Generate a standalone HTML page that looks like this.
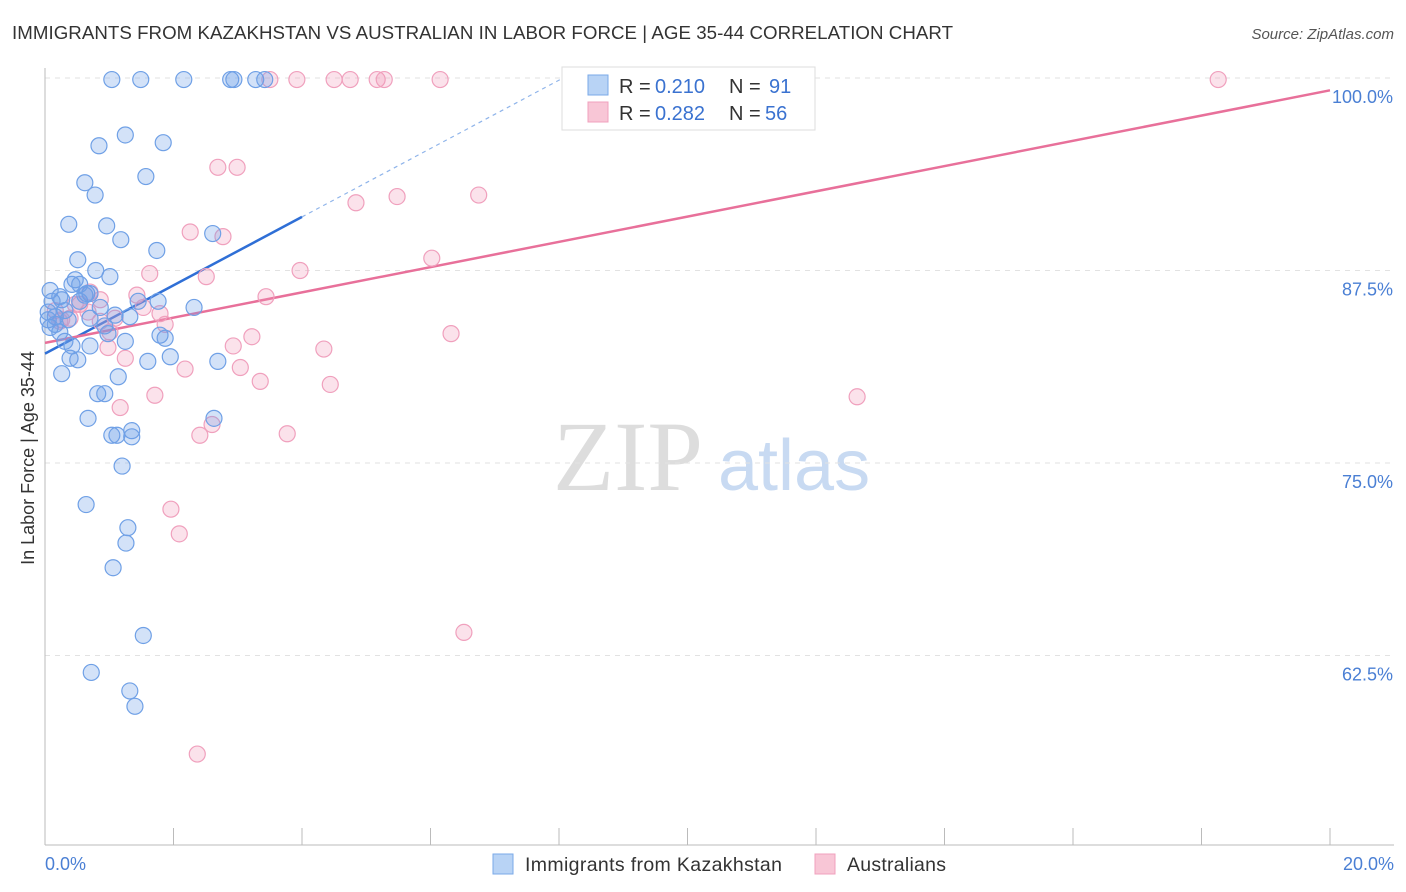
<!DOCTYPE html>
<html><head><meta charset="utf-8"><style>
body{margin:0;background:#fff;font-family:"Liberation Sans",sans-serif}
svg{display:block}
</style></head><body>
<svg id="c" width="1406" height="892" xmlns="http://www.w3.org/2000/svg">
<text x="12" y="39" font-size="18.7" fill="#333" textLength="941">IMMIGRANTS FROM KAZAKHSTAN VS AUSTRALIAN IN LABOR FORCE | AGE 35-44 CORRELATION CHART</text>
<text x="1394" y="39" font-size="15" fill="#555" font-style="italic" text-anchor="end">Source: ZipAtlas.com</text>
<text transform="translate(34,458) rotate(-90)" font-size="18" fill="#333" text-anchor="middle">In Labor Force | Age 35-44</text>
<g><text x="553" y="490" font-family="Liberation Serif,serif" font-size="100" fill="#ddd">ZIP</text><text x="718" y="490" font-size="72" fill="#c8daf2">atlas</text></g>
<g id="grid"></g>
<g id="ticks"></g>
<g id="trend"></g>
<g id="pts"></g>
<g>
<rect x="562" y="67" width="253" height="63" fill="#fff" stroke="#ddd"/>
<rect x="588" y="75" width="20" height="20" fill="#b8d3f5" stroke="#7aa9e8"/>
<rect x="588" y="102" width="20" height="20" fill="#f8c6d6" stroke="#f0a0bd"/>
<text x="619" y="93" font-size="20" fill="#333">R =</text><text x="655" y="93" font-size="20" fill="#3a72d0">0.210</text>
<text x="729" y="93" font-size="20" fill="#333">N =</text><text x="769" y="93" font-size="20" fill="#3a72d0">91</text>
<text x="619" y="120" font-size="20" fill="#333">R =</text><text x="655" y="120" font-size="20" fill="#3a72d0">0.282</text>
<text x="729" y="120" font-size="20" fill="#333">N =</text><text x="765" y="120" font-size="20" fill="#3a72d0">56</text>
</g>
<text x="45" y="870" font-size="18" fill="#4a7fd4">0.0%</text>
<text x="1394" y="870" font-size="18" fill="#4a7fd4" text-anchor="end">20.0%</text>
<g>
<rect x="493" y="854" width="20" height="20" fill="#b8d3f5" stroke="#7aa9e8"/>
<text x="525" y="871" font-size="19.5" fill="#333" textLength="257">Immigrants from Kazakhstan</text>
<rect x="815" y="854" width="20" height="20" fill="#f8c6d6" stroke="#f0a0bd"/>
<text x="847" y="871" font-size="19.5" fill="#333" textLength="99">Australians</text>
</g>
</svg>
<script>
const yTicks=[100,87.5,75,62.5];
const yTickLabels=["100.0%","87.5%","75.0%","62.5%"];
const xTicks=[0,2,4,6,8,10,12,14,16,18,20];
const blueX=[1.04,1.49,2.16,2.89,2.94,3.28,3.42,1.25,0.84,1.84,1.57,0.62,0.78,0.37,0.96,1.18,1.74,2.61,0.51,0.79,1.01,0.47,0.42,0.65,0.08,0.23,0.70,0.11,0.26,0.54,0.86,1.45,1.76,2.32,0.05,0.16,0.36,0.70,1.09,1.32,0.93,0.08,0.23,0.98,1.79,1.87,0.31,0.42,0.70,1.25,0.39,0.51,1.60,1.95,2.69,0.26,1.14,0.82,0.93,0.67,2.63,1.04,1.12,1.35,1.35,1.20,0.64,1.29,1.26,1.06,1.53,0.72,1.32,1.40,0.05,0.16,0.31,0.54,0.62];
const blueY=[99.9,99.9,99.9,99.9,99.9,99.9,99.9,96.3,95.6,95.8,93.6,93.2,92.4,90.5,90.4,89.5,88.8,89.9,88.2,87.5,87.1,86.9,86.6,86.0,86.2,85.8,86.0,85.5,85.6,85.5,85.1,85.5,85.5,85.1,84.8,84.5,84.3,84.4,84.6,84.5,83.9,83.8,83.5,83.4,83.3,83.1,82.9,82.6,82.6,82.9,81.8,81.7,81.6,81.9,81.6,80.8,80.6,79.5,79.5,77.9,77.9,76.8,76.8,77.1,76.7,74.8,72.3,70.8,69.8,68.2,63.8,61.4,60.2,59.2,84.3,84.0,84.9,86.6,85.9];
const pinkX=[3.50,3.92,4.50,4.75,5.17,5.28,6.15,18.26,2.69,2.99,4.84,5.48,6.75,2.26,2.77,6.02,1.63,3.97,2.51,0.70,1.43,3.44,0.86,0.54,1.53,1.79,0.16,0.39,0.26,1.87,1.09,1.01,3.22,2.93,4.34,6.32,0.98,1.25,2.18,3.04,3.35,4.44,1.71,12.64,1.17,2.60,2.41,3.77,1.96,2.09,6.52,2.37,0.86,0.23,0.67,0.47];
const pinkY=[99.9,99.9,99.9,99.9,99.9,99.9,99.9,99.9,94.2,94.2,91.9,92.3,92.4,90.0,89.7,88.3,87.3,87.5,87.1,86.1,85.9,85.8,85.6,85.3,85.1,84.7,84.9,84.4,84.3,84.0,84.4,83.5,83.2,82.6,82.4,83.4,82.5,81.8,81.1,81.2,80.3,80.1,79.4,79.3,78.6,77.5,76.8,76.9,72.0,70.4,64.0,56.1,84.2,84.2,84.8,85.3];
const blueTrend=[82.1,2.22]; // intercept, slope
const pinkTrend=[82.8,0.82];
const NS="http://www.w3.org/2000/svg";
const X=v=>45+v*64.25, Y=v=>78+(100-v)*15.4;
function mk(t,a,p){const e=document.createElementNS(NS,t);for(const k in a)e.setAttribute(k,a[k]);p.appendChild(e);return e;}
const g=document.getElementById('grid');
yTicks.forEach((t,i)=>{
 const l=mk('line',{x1:45,x2:1394,y1:Y(t),y2:Y(t),stroke:'#e2e2e2','stroke-dasharray':'5,5'},g);
 
 
 const tx=mk('text',{x:1393,y:Y(t)+25,'font-size':18,fill:'#4a7fd4','text-anchor':'end'},g);
 tx.textContent=yTickLabels[i];
 
 
});
const ax=mk('line',{x1:45,x2:45,y1:68,y2:845,stroke:'#bbb'},g);


const bx=mk('line',{x1:45,x2:1394,y1:845,y2:845,stroke:'#bbb'},g);


const tk=document.getElementById('ticks');
xTicks.forEach(t=>{const l=mk('line',{x1:X(t),x2:X(t),y1:828,y2:845,stroke:'#bbb'},tk);
 
 });
const pg=document.getElementById('pts');
function pts(xs,ys,fill,stroke,name){xs.forEach((x,i)=>{const c=mk('circle',{cx:X(x),cy:Y(ys[i]),r:8,fill:fill,stroke:stroke,'stroke-width':1.2},pg);
 
 });}
pts(pinkX,pinkY,'rgba(242,150,182,0.28)','#f0a0bd','point-australians');
pts(blueX,blueY,'rgba(110,160,232,0.3)','#6fa0e6','point-kazakhstan');
const tg=document.getElementById('trend');
const f=(tr,x)=>tr[0]+tr[1]*x;
const b1=mk('line',{x1:X(0),y1:Y(f(blueTrend,0)),x2:X(4),y2:Y(f(blueTrend,4)),stroke:'#2f6fd6','stroke-width':2.5},tg);


const xe=(100-blueTrend[0])/blueTrend[1];
const b2=mk('line',{x1:X(4),y1:Y(f(blueTrend,4)),x2:X(xe),y2:Y(100),stroke:'#8fb4ea','stroke-width':1.2,'stroke-dasharray':'4,4'},tg);


const p1=mk('line',{x1:X(0),y1:Y(f(pinkTrend,0)),x2:X(20),y2:Y(f(pinkTrend,20)),stroke:'#e8709a','stroke-width':2.5},tg);


</script>
</body></html>
